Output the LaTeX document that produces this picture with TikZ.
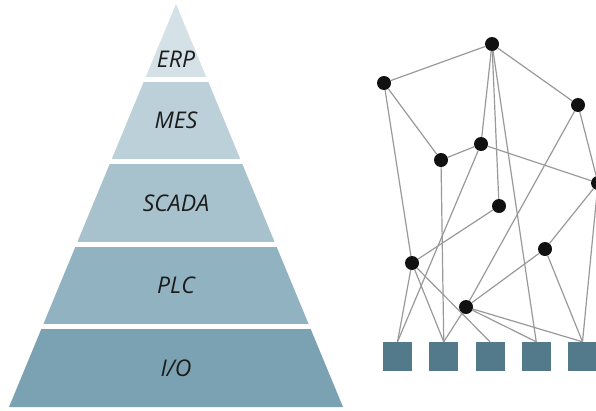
\documentclass[tikz,border=0pt]{standalone}
\usepackage{fontspec}
\setmainfont{Open Sans}
\usepackage{tikz}
\usetikzlibrary{positioning}
\definecolor{Erp}{HTML}{D4E1E7}
\definecolor{Mes}{HTML}{BCD0D9}
\definecolor{Scada}{HTML}{A7C2CD}
\definecolor{Plc}{HTML}{91B2C0}
\definecolor{Io}{HTML}{7AA2B2}
\definecolor{Dev}{HTML}{527A8A}
\definecolor{Wire}{HTML}{999999}
\definecolor{Ink}{HTML}{1C1C1C}

\begin{document}
\begin{tikzpicture}[x=1pt,y=-1pt,
    lvl/.style={font=\fontsize{23}{25}\selectfont\itshape,text=Ink,inner sep=0pt},
    dot/.style={circle,fill=Ink!60!black,minimum size=14pt,inner sep=0pt},
    dev/.style={rectangle,fill=Dev,minimum size=29pt,inner sep=0pt},
    wire/.style={Wire,line width=1.2pt}
  ]
    \useasboundingbox (0,0) rectangle (596,410);
    % pyramid, cut into five layers
    \begin{scope}
      \clip (176,4)--(9,407)--(343,407)--cycle;
      \foreach \t/\b/\c in {0/77/Erp,82/159/Mes,164/242/Scada,247/324/Plc,329/410/Io}
        \fill[\c] (0,\t) rectangle (350,\b);
    \end{scope}
    \node[lvl] (erp) at (176,59) {ERP};
    \node[lvl] (mes) at (176,120.5) {MES};
    \node[lvl] (scada) at (176,203) {SCADA};
    \node[lvl] (plc) at (176,285.5) {PLC};
    \node[lvl] (io) at (176,368) {I/O};

    % device network
    \node[dot] (d1) at (384,83) {};
    \node[dot] (d2) at (492,44) {};
    \node[dot] (d3) at (578,105) {};
    \node[dot] (d4) at (481,144) {};
    \node[dot] (d5) at (441,160) {};
    \node[dot] (d6) at (598,183) {};
    \node[dot] (d7) at (499,206) {};
    \node[dot] (d8) at (545,249) {};
    \node[dot] (d9) at (412,263) {};
    \node[dot] (d10) at (466,307) {};
    \foreach \i in {1,...,5}
      \node[dev] (io\i) at ({397.5+46.25*(\i-1)},356.5) {};
    \foreach \a/\b in {d1/d2,d2/d3,d1/d5,d1/d9,d2/d4,d2/d7,d3/d6,d3/d10,
        d4/d5,d4/d6,d6/d8,d7/d9,d8/d10}
      \draw[wire] (\a)--(\b);
    \foreach \a/\b in {d2/io4,d4/io1,d5/io2,d6/io5,d8/io5,d9/io1,d9/io2,
        d9/io3,d10/io2,d10/io4,d10/io5}
      \draw[wire] (\a)--(\b.north);
  \end{tikzpicture}
\end{document}
